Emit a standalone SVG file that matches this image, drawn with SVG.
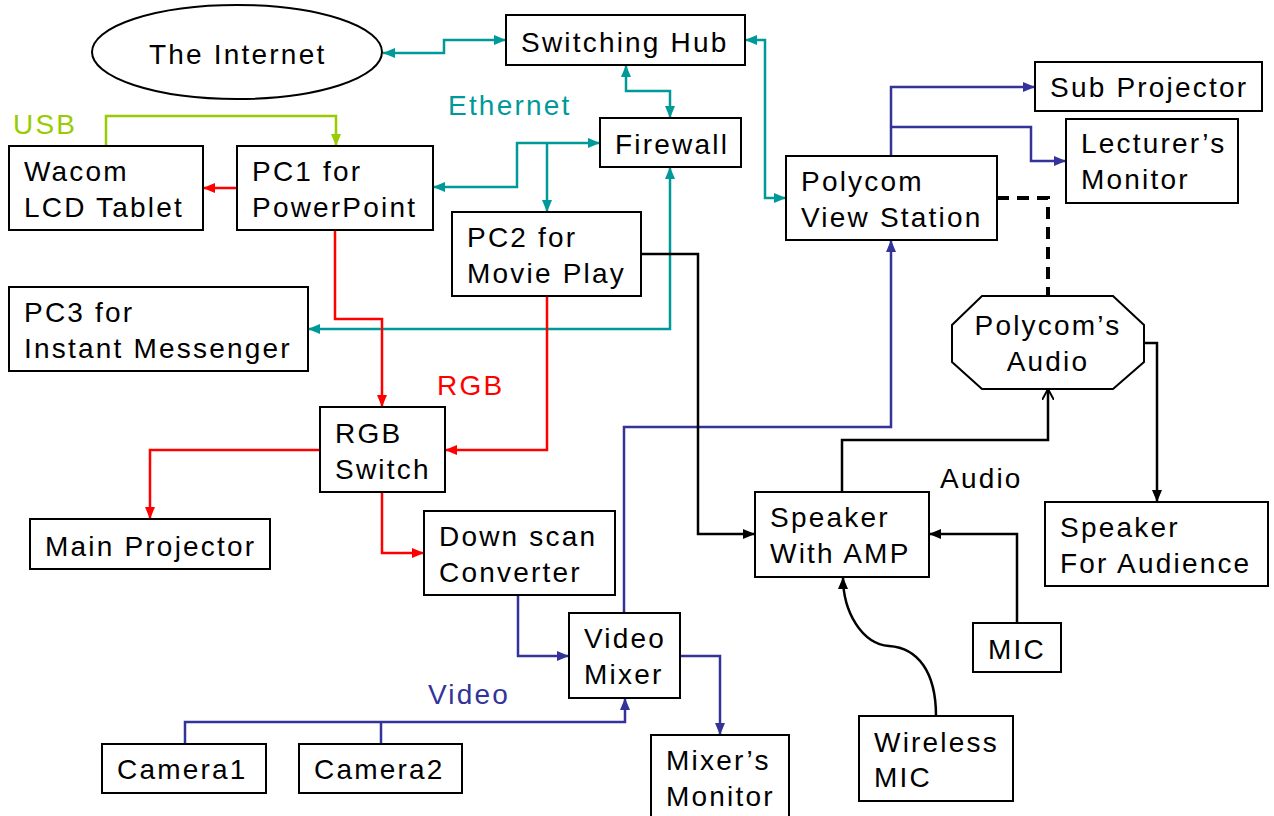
<svg xmlns="http://www.w3.org/2000/svg" width="1274" height="816" viewBox="0 0 1274 816">
<style>
.box{fill:#fff;stroke:#000;stroke-width:2}
.t{font-family:"Liberation Sans",Arial,sans-serif;font-size:28px;letter-spacing:2.2px;fill:#000}
.c{fill:none;stroke-width:2.5}
.teal{stroke:#009999}.red{stroke:#ff0000}.blue{stroke:#333399}.blk{stroke:#000}.grn{stroke:#99cc00}
</style>
<defs>
<marker id="aT" viewBox="0 0 12 10" refX="12" refY="5" markerWidth="12" markerHeight="10" markerUnits="userSpaceOnUse" orient="auto-start-reverse"><path d="M0,0L12,5L0,10z" fill="#009999"/></marker>
<marker id="aR" viewBox="0 0 12 10" refX="12" refY="5" markerWidth="12" markerHeight="10" markerUnits="userSpaceOnUse" orient="auto-start-reverse"><path d="M0,0L12,5L0,10z" fill="#ff0000"/></marker>
<marker id="aB" viewBox="0 0 12 10" refX="12" refY="5" markerWidth="12" markerHeight="10" markerUnits="userSpaceOnUse" orient="auto-start-reverse"><path d="M0,0L12,5L0,10z" fill="#333399"/></marker>
<marker id="aK" viewBox="0 0 12 10" refX="12" refY="5" markerWidth="12" markerHeight="10" markerUnits="userSpaceOnUse" orient="auto-start-reverse"><path d="M0,0L12,5L0,10z" fill="#000"/></marker>
<marker id="aG" viewBox="0 0 12 10" refX="12" refY="5" markerWidth="12" markerHeight="10" markerUnits="userSpaceOnUse" orient="auto-start-reverse"><path d="M0,0L12,5L0,10z" fill="#99cc00"/></marker>
<marker id="aO" viewBox="0 0 12 12" refX="11" refY="6" markerWidth="12" markerHeight="12" markerUnits="userSpaceOnUse" orient="auto"><path d="M0,0L11,6L0,12" fill="none" stroke="#000" stroke-width="2"/></marker>
</defs>

<g id="connectors">
<path class="c teal" d="M383,53 L444,53 L444,40 L506,40" marker-start="url(#aT)" marker-end="url(#aT)"/>
<path class="c teal" d="M626,65 L626,91 L670,91 L670,118" marker-start="url(#aT)" marker-end="url(#aT)"/>
<path class="c teal" d="M745,40 L765,40 L765,198 L786,198" marker-start="url(#aT)" marker-end="url(#aT)"/>
<path class="c teal" d="M600,143 L517,143 L517,187 L433,187" marker-start="url(#aT)" marker-end="url(#aT)"/>
<path class="c teal" d="M547,143 L547,212" marker-end="url(#aT)"/>
<path class="c teal" d="M670,167 L670,329 L308,329" marker-start="url(#aT)" marker-end="url(#aT)"/>

<path class="c red" d="M237,188 L203,188" marker-end="url(#aR)"/>
<path class="c red" d="M335,230 L335,319 L382,319 L382,407" marker-end="url(#aR)"/>
<path class="c red" d="M547,296 L547,450 L445,450" marker-end="url(#aR)"/>
<path class="c red" d="M320,450 L150,450 L150,519" marker-end="url(#aR)"/>
<path class="c red" d="M382,492 L382,553 L424,553" marker-end="url(#aR)"/>

<path class="c grn" d="M106,146 L106,116 L336,116 L336,146" marker-end="url(#aG)"/>

<path class="c blue" d="M891,156 L891,87 L1035,87" marker-end="url(#aB)"/>
<path class="c blue" d="M891,127 L1031,127 L1031,161 L1066,161" marker-end="url(#aB)"/>
<path class="c blue" d="M624,613 L624,427 L891,427 L891,240" marker-end="url(#aB)"/>
<path class="c blue" d="M518,595 L518,656 L569,656" marker-end="url(#aB)"/>
<path class="c blue" d="M680,656 L720,656 L720,735" marker-end="url(#aB)"/>
<path class="c blue" d="M185,744 L185,722 L625,722 L625,698" marker-end="url(#aB)"/>
<path class="c blue" d="M381,744 L381,722"/>

<path class="c blk" d="M641,254 L698,254 L698,534 L755,534" marker-end="url(#aK)"/>
<path class="c blk" d="M842,492 L842,440 L1048,440 L1048,389" marker-end="url(#aO)"/>
<path class="c blk" d="M1017,623 L1017,534 L929,534" marker-end="url(#aK)"/>
<path class="c blk" d="M936,716 C936,672 918,648 889,646 C862,644 843,612 843,577" marker-end="url(#aK)"/>
<path class="c blk" d="M1144,343 L1157,343 L1157,502" marker-end="url(#aK)"/>
<path d="M997,198 L1048,198 L1048,296" fill="none" stroke="#000" stroke-width="4" stroke-dasharray="12,8"/>
</g>

<g id="labels">
<text class="t" x="448" y="115" style="fill:#009999">Ethernet</text>
<text class="t" x="13" y="134" style="fill:#99cc00">USB</text>
<text class="t" x="437" y="395" style="fill:#ff0000">RGB</text>
<text class="t" x="428" y="704" style="fill:#333399">Video</text>
<text class="t" x="940" y="488">Audio</text>
</g>

<g id="internet"><ellipse class="box" cx="237" cy="52" rx="145" ry="47"/><text class="t" x="149" y="64">The Internet</text></g>
<g id="hub"><rect class="box" x="506" y="15" width="239" height="50"/><text class="t" x="521" y="52">Switching Hub</text></g>
<g id="firewall"><rect class="box" x="600" y="118" width="141" height="49"/><text class="t" x="615" y="154">Firewall</text></g>
<g id="wacom"><rect class="box" x="9" y="146" width="194" height="84"/><text class="t" x="24" y="181">Wacom</text><text class="t" x="24" y="217">LCD Tablet</text></g>
<g id="pc1"><rect class="box" x="237" y="146" width="196" height="84"/><text class="t" x="252" y="181">PC1 for</text><text class="t" x="252" y="217">PowerPoint</text></g>
<g id="pc2"><rect class="box" x="452" y="212" width="189" height="84"/><text class="t" x="467" y="247">PC2 for</text><text class="t" x="467" y="283">Movie Play</text></g>
<g id="pc3"><rect class="box" x="9" y="287" width="299" height="84"/><text class="t" x="24" y="322">PC3 for</text><text class="t" x="24" y="358">Instant Messenger</text></g>
<g id="rgbswitch"><rect class="box" x="320" y="407" width="125" height="85"/><text class="t" x="335" y="443">RGB</text><text class="t" x="335" y="479">Switch</text></g>
<g id="mainproj"><rect class="box" x="30" y="519" width="240" height="50"/><text class="t" x="45" y="556">Main Projector</text></g>
<g id="downscan"><rect class="box" x="424" y="511" width="191" height="84"/><text class="t" x="439" y="546">Down scan</text><text class="t" x="439" y="582">Converter</text></g>
<g id="mixer"><rect class="box" x="569" y="613" width="111" height="85"/><text class="t" x="584" y="648">Video</text><text class="t" x="584" y="684">Mixer</text></g>
<g id="mixmon"><rect class="box" x="651" y="735" width="138" height="95"/><text class="t" x="666" y="770">Mixer’s</text><text class="t" x="666" y="806">Monitor</text></g>
<g id="cam1"><rect class="box" x="102" y="744" width="164" height="49"/><text class="t" x="117" y="779">Camera1</text></g>
<g id="cam2"><rect class="box" x="299" y="744" width="163" height="49"/><text class="t" x="314" y="779">Camera2</text></g>
<g id="speaker"><rect class="box" x="755" y="492" width="174" height="85"/><text class="t" x="770" y="527">Speaker</text><text class="t" x="770" y="563">With AMP</text></g>
<g id="mic"><rect class="box" x="973" y="623" width="88" height="49"/><text class="t" x="988" y="659">MIC</text></g>
<g id="wmic"><rect class="box" x="859" y="716" width="154" height="85"/><text class="t" x="874" y="752">Wireless</text><text class="t" x="874" y="787">MIC</text></g>
<g id="spkaud"><rect class="box" x="1045" y="502" width="223" height="84"/><text class="t" x="1060" y="537">Speaker</text><text class="t" x="1060" y="573">For Audience</text></g>
<g id="polycom"><rect class="box" x="786" y="156" width="211" height="84"/><text class="t" x="801" y="191">Polycom</text><text class="t" x="801" y="227">View Station</text></g>
<g id="subproj"><rect class="box" x="1035" y="62" width="227" height="49"/><text class="t" x="1050" y="97">Sub Projector</text></g>
<g id="lecmon"><rect class="box" x="1066" y="119" width="172" height="84"/><text class="t" x="1081" y="153">Lecturer’s</text><text class="t" x="1081" y="189">Monitor</text></g>
<g id="polyaudio"><polygon class="box" points="982,296 1113,296 1144,325 1144,362 1113,389 982,389 952,362 952,325"/><text class="t" x="1048" y="335" text-anchor="middle">Polycom’s</text><text class="t" x="1048" y="371" text-anchor="middle">Audio</text></g>
</svg>
